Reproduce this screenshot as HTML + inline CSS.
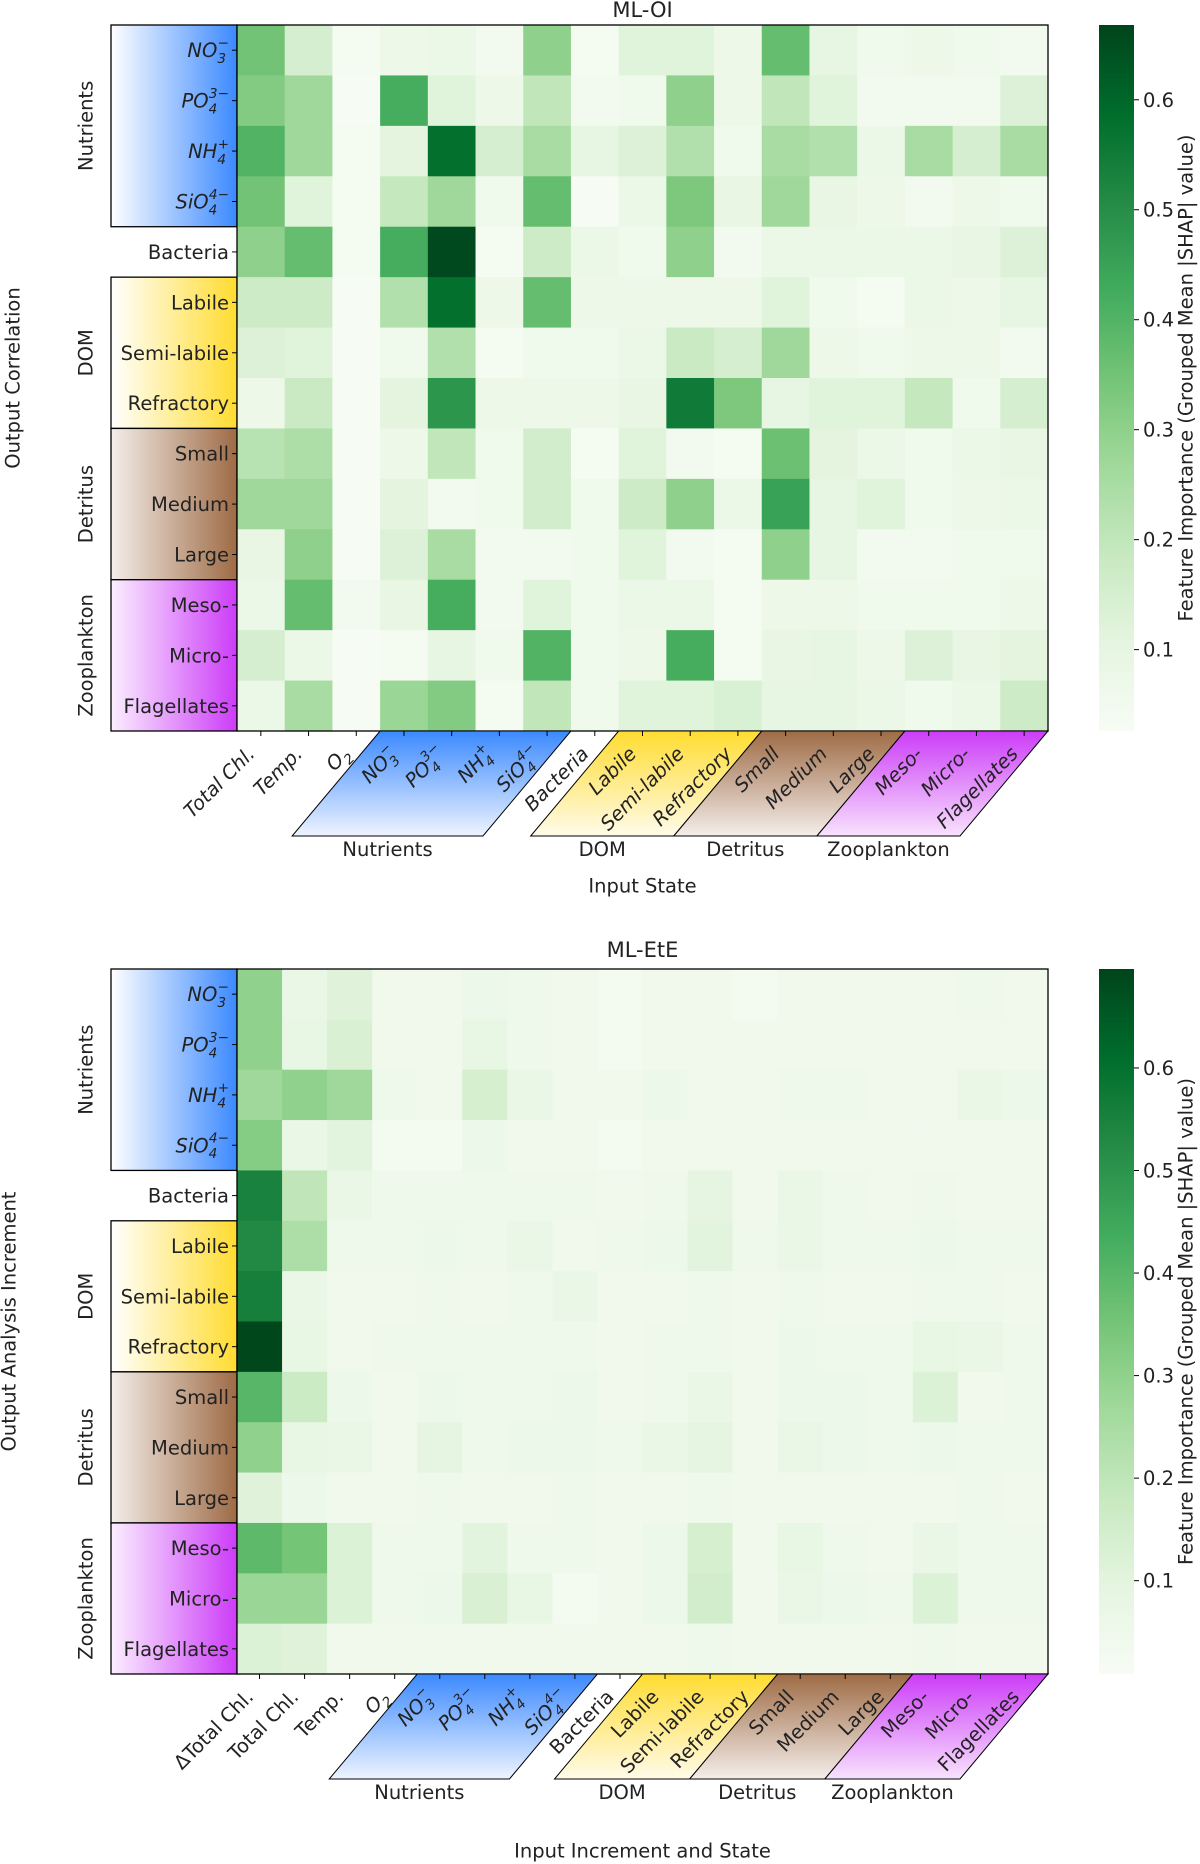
<!DOCTYPE html>
<html><head><meta charset="utf-8">
<style>
html,body{margin:0;padding:0;background:#fff;}
svg{display:block;font-family:"DejaVu Sans","Liberation Sans",sans-serif;}
</style></head>
<body>
<svg id="fig" width="1200" height="1864" viewBox="0 0 1200 1864" xmlns="http://www.w3.org/2000/svg">
<defs>
<linearGradient id="gBlueH" x1="0" x2="1" y1="0" y2="0"><stop offset="0" stop-color="#fff"/><stop offset="1" stop-color="#3b89ff"/></linearGradient>
<linearGradient id="gYelH" x1="0" x2="1" y1="0" y2="0"><stop offset="0" stop-color="#fff"/><stop offset="1" stop-color="#ffdc30"/></linearGradient>
<linearGradient id="gBrnH" x1="0" x2="1" y1="0" y2="0"><stop offset="0" stop-color="#f4eeea"/><stop offset="1" stop-color="#9e6b45"/></linearGradient>
<linearGradient id="gMagH" x1="0" x2="1" y1="0" y2="0"><stop offset="0" stop-color="#fbeeff"/><stop offset="1" stop-color="#cc3cf8"/></linearGradient>
<linearGradient id="gBlueV" x1="0" x2="0" y1="0" y2="1"><stop offset="0" stop-color="#3b89ff"/><stop offset="1" stop-color="#eef4ff"/></linearGradient>
<linearGradient id="gYelV" x1="0" x2="0" y1="0" y2="1"><stop offset="0" stop-color="#ffdc30"/><stop offset="1" stop-color="#fffbea"/></linearGradient>
<linearGradient id="gBrnV" x1="0" x2="0" y1="0" y2="1"><stop offset="0" stop-color="#9e6b45"/><stop offset="1" stop-color="#f4eeea"/></linearGradient>
<linearGradient id="gMagV" x1="0" x2="0" y1="0" y2="1"><stop offset="0" stop-color="#cc3cf8"/><stop offset="1" stop-color="#f8e2fd"/></linearGradient>
<linearGradient id="gCbar" x1="0" x2="0" y1="1" y2="0">
<stop offset="0" stop-color="#f7fcf5"/><stop offset="0.125" stop-color="#e5f5e0"/><stop offset="0.25" stop-color="#c7e9c0"/><stop offset="0.375" stop-color="#a1d99b"/><stop offset="0.5" stop-color="#74c476"/><stop offset="0.625" stop-color="#41ab5d"/><stop offset="0.75" stop-color="#238b45"/><stop offset="0.875" stop-color="#006d2c"/><stop offset="1" stop-color="#00441b"/>
</linearGradient>
</defs>
</svg>
<script>
// ---------- data ----------
const rowLabels = ["NO3","PO4","NH4","SiO4","Bacteria","Labile","Semi-labile","Refractory","Small","Medium","Large","Meso-","Micro-","Flagellates"];
const colsOI = ["Total Chl.","Temp.","O2","NO3","PO4","NH4","SiO4","Bacteria","Labile","Semi-labile","Refractory","Small","Medium","Large","Meso-","Micro-","Flagellates"];
const colsEtE = ["\u0394Total Chl.","Total Chl.","Temp.","O2","NO3","PO4","NH4","SiO4","Bacteria","Labile","Semi-labile","Refractory","Small","Medium","Large","Meso-","Micro-","Flagellates"];
const valuesOI = [
 [0.35,0.15,0.04,0.07,0.08,0.05,0.30,0.04,0.12,0.12,0.07,0.37,0.10,0.06,0.07,0.06,0.05],
 [0.32,0.27,0.03,0.42,0.12,0.07,0.20,0.05,0.06,0.30,0.07,0.20,0.12,0.05,0.05,0.05,0.13],
 [0.40,0.27,0.04,0.11,0.58,0.15,0.25,0.10,0.13,0.23,0.06,0.25,0.23,0.08,0.25,0.15,0.25],
 [0.35,0.12,0.04,0.19,0.27,0.06,0.37,0.03,0.08,0.33,0.09,0.27,0.09,0.07,0.05,0.07,0.06],
 [0.30,0.37,0.04,0.42,0.66,0.04,0.17,0.08,0.06,0.30,0.05,0.08,0.08,0.08,0.08,0.09,0.13],
 [0.17,0.17,0.03,0.23,0.58,0.07,0.37,0.07,0.07,0.07,0.07,0.12,0.06,0.04,0.08,0.07,0.10],
 [0.13,0.12,0.03,0.06,0.23,0.04,0.06,0.06,0.08,0.18,0.15,0.27,0.07,0.06,0.07,0.07,0.05],
 [0.07,0.18,0.03,0.11,0.48,0.07,0.07,0.07,0.09,0.55,0.33,0.10,0.12,0.12,0.19,0.06,0.15],
 [0.22,0.24,0.03,0.07,0.20,0.06,0.16,0.04,0.12,0.05,0.04,0.36,0.11,0.08,0.06,0.08,0.09],
 [0.27,0.27,0.03,0.11,0.05,0.06,0.16,0.06,0.17,0.30,0.08,0.45,0.10,0.12,0.06,0.07,0.08],
 [0.09,0.30,0.03,0.13,0.25,0.05,0.05,0.06,0.12,0.05,0.04,0.30,0.10,0.05,0.05,0.06,0.06],
 [0.08,0.37,0.05,0.09,0.42,0.05,0.12,0.06,0.08,0.08,0.04,0.07,0.07,0.06,0.06,0.06,0.07],
 [0.15,0.08,0.03,0.04,0.10,0.06,0.40,0.06,0.07,0.42,0.04,0.09,0.10,0.07,0.13,0.09,0.11],
 [0.08,0.25,0.03,0.28,0.32,0.04,0.20,0.06,0.12,0.12,0.14,0.10,0.10,0.08,0.06,0.08,0.17]
];
const valuesEtE = [
 [0.30,0.07,0.11,0.04,0.04,0.06,0.05,0.04,0.03,0.04,0.04,0.03,0.04,0.04,0.04,0.04,0.05,0.04],
 [0.30,0.08,0.13,0.04,0.04,0.08,0.05,0.04,0.03,0.04,0.04,0.04,0.04,0.04,0.04,0.04,0.04,0.04],
 [0.27,0.30,0.27,0.05,0.04,0.14,0.07,0.04,0.04,0.06,0.04,0.04,0.05,0.05,0.04,0.04,0.07,0.06],
 [0.32,0.07,0.10,0.03,0.03,0.06,0.04,0.04,0.03,0.04,0.04,0.04,0.04,0.04,0.04,0.04,0.04,0.04],
 [0.55,0.20,0.07,0.05,0.05,0.05,0.05,0.05,0.04,0.05,0.09,0.04,0.07,0.05,0.04,0.05,0.04,0.04],
 [0.53,0.24,0.05,0.05,0.06,0.05,0.07,0.04,0.05,0.06,0.10,0.05,0.07,0.05,0.05,0.06,0.05,0.05],
 [0.56,0.07,0.04,0.04,0.05,0.04,0.05,0.07,0.04,0.04,0.05,0.04,0.05,0.04,0.04,0.05,0.05,0.04],
 [0.69,0.08,0.04,0.05,0.05,0.05,0.05,0.05,0.04,0.05,0.05,0.04,0.06,0.05,0.05,0.08,0.07,0.05],
 [0.40,0.17,0.06,0.04,0.06,0.05,0.05,0.06,0.04,0.05,0.07,0.04,0.06,0.06,0.05,0.12,0.04,0.05],
 [0.30,0.08,0.07,0.04,0.09,0.05,0.06,0.06,0.05,0.07,0.09,0.04,0.07,0.06,0.05,0.06,0.05,0.05],
 [0.11,0.06,0.04,0.04,0.05,0.04,0.04,0.05,0.04,0.04,0.05,0.04,0.04,0.04,0.04,0.04,0.05,0.04],
 [0.39,0.35,0.12,0.05,0.05,0.10,0.05,0.05,0.04,0.06,0.14,0.04,0.08,0.05,0.04,0.07,0.05,0.05],
 [0.28,0.28,0.12,0.05,0.06,0.13,0.08,0.03,0.04,0.06,0.15,0.04,0.07,0.06,0.05,0.12,0.05,0.05],
 [0.12,0.11,0.04,0.04,0.04,0.04,0.04,0.04,0.04,0.04,0.05,0.04,0.04,0.04,0.04,0.05,0.04,0.04]
];
const cbarTicks = [0.1,0.2,0.3,0.4,0.5,0.6];
const cbarTickLabels = ["0.1","0.2","0.3","0.4","0.5","0.6"];

// ---------- helpers ----------
const NS = "http://www.w3.org/2000/svg";
const svg = document.getElementById("fig");
const FS = 19.5;
const GREENS = ["#f7fcf5","#e5f5e0","#c7e9c0","#a1d99b","#74c476","#41ab5d","#238b45","#006d2c","#00441b"];
function hex(h){return [parseInt(h.substr(1,2),16),parseInt(h.substr(3,2),16),parseInt(h.substr(5,2),16)];}
function cmap(t){
  t=Math.max(0,Math.min(1,t));
  const p=t*8, i=Math.min(7,Math.floor(p)), f=p-i;
  const a=hex(GREENS[i]), b=hex(GREENS[i+1]);
  return "rgb("+a.map((v,k)=>Math.round(v+(b[k]-v)*f)).join(",")+")";
}
function mk(tag, attrs, parent){
  const e=document.createElementNS(NS,tag);
  for(const k in attrs) e.setAttribute(k,attrs[k]);
  (parent||svg).appendChild(e);
  return e;
}
const CHEM = {
  "NO3":["NO","3","\u2212"],
  "PO4":["PO","4","3\u2212"],
  "NH4":["NH","4","+"],
  "SiO4":["SiO","4","4\u2212"],
  "O2":["O","2",""]
};
function fillLabel(t, label, size){
  if(CHEM[label]){
    const c=CHEM[label];
    t.setAttribute("font-style","italic");
    const b=mk("tspan",{},t); b.textContent=c[0];
    const s=mk("tspan",{"font-size":size*0.7,"dy":size*0.3},t); s.textContent=c[1];
    if(c[2]){
      const w=size*0.7*0.62;
      const u=mk("tspan",{"font-size":size*0.7,"dx":-w,"dy":-size*0.8},t); u.textContent=c[2];
      const r=mk("tspan",{"font-size":size*0.7,"dy":size*0.5},t); r.textContent="";
    }
  } else t.textContent=label;
}

const ROWGROUPS = [
 {r0:0,r1:4,name:"Nutrients",fill:"url(#gBlueH)"},
 {r0:5,r1:8,name:"DOM",fill:"url(#gYelH)"},
 {r0:8,r1:11,name:"Detritus",fill:"url(#gBrnH)"},
 {r0:11,r1:14,name:"Zooplankton",fill:"url(#gMagH)"}
];

function drawChart(cfg){
  const {top,bottom,left,right,cols,vals,vmin,vmax} = cfg;
  const nR=rowLabels.length, nC=cols.length;
  const cw=(right-left)/nC, rh=(bottom-top)/nR;
  const xs=i=>left+i*cw, ys=j=>top+j*rh;
  const g=mk("g",{});
  
  

  const title=mk("text",{x:(left+right)/2,y:cfg.titleY,"text-anchor":"middle","dominant-baseline":"middle","font-size":21,fill:"#222"},g);
  
  
  title.textContent=cfg.title;

  ROWGROUPS.forEach(rg=>{
    const r=mk("rect",{x:111,y:ys(rg.r0),width:left-111,height:ys(rg.r1)-ys(rg.r0),fill:rg.fill,stroke:"#000","stroke-width":1.3},g);
    
    
    const cy=(ys(rg.r0)+ys(rg.r1))/2;
    const t=mk("text",{x:0,y:0,transform:"translate(87,"+cy+") rotate(-90)","text-anchor":"middle","dominant-baseline":"middle","font-size":FS,fill:"#222"},g);
    
    
    t.textContent=rg.name;
  });

  vals.forEach((row,j)=>row.forEach((v,i)=>{
    const c=mk("rect",{x:xs(i),y:ys(j),width:cw+0.6,height:rh+0.6,fill:cmap((v-vmin)/(vmax-vmin))},g);
    
    
  }));
  const fr=mk("rect",{x:left,y:top,width:right-left,height:bottom-top,fill:"none",stroke:"#000","stroke-width":1.3},g);
  
  

  rowLabels.forEach((lab,j)=>{
    const cy=ys(j)+rh/2;
    mk("line",{x1:left-5,x2:left,y1:cy,y2:cy,stroke:"#000","stroke-width":1},g);
    const t=mk("text",{x:left-8,y:cy+7,"text-anchor":"end","font-size":FS,fill:"#222"},g);
    
    
    fillLabel(t,lab,FS);
  });

  const H=105, SH=88;
  cfg.colGroups.forEach(cg=>{
    const x0=xs(cg.c0), x1=xs(cg.c1);
    const p=mk("polygon",{points:[x0+","+bottom,x1+","+bottom,(x1-SH)+","+(bottom+H),(x0-SH)+","+(bottom+H)].join(" "),fill:cg.fill,stroke:"#000","stroke-width":1},g);
    
    
    const t=mk("text",{x:(x0+x1)/2-SH,y:bottom+H+20,"text-anchor":"middle","font-size":FS,fill:"#222"},g);
    
    
    t.textContent=cg.name;
  });

  cols.forEach((lab,i)=>{
    const cx=xs(i)+cw/2;
    mk("line",{x1:cx,x2:cx,y1:bottom,y2:bottom+5,stroke:"#000","stroke-width":1},g);
    const t=mk("text",{x:0,y:0,transform:"translate("+(cx-5)+","+(bottom+24)+") rotate(-45)","text-anchor":"end","font-size":FS,fill:"#222"},g);
    if(cfg.italicX) t.setAttribute("font-style","italic");
    
    
    fillLabel(t,lab,FS);
  });

  const xl=mk("text",{x:(left+right)/2,y:cfg.xlabelY,"text-anchor":"middle","dominant-baseline":"middle","font-size":FS,fill:"#222"},g);
  
  
  xl.textContent=cfg.xlabel;
  const yl=mk("text",{x:0,y:0,transform:"translate("+cfg.ylabelX+","+((top+bottom)/2)+") rotate(-90)","text-anchor":"middle","dominant-baseline":"middle","font-size":FS,fill:"#222"},g);
  
  
  yl.textContent=cfg.ylabel;

  const cbx=1099, cbw=35;
  const cb=mk("rect",{x:cbx,y:top,width:cbw,height:bottom-top,fill:"url(#gCbar)"},g);
  
  
  const cy=v=>bottom-(v-vmin)/(vmax-vmin)*(bottom-top);
  cbarTicks.forEach((v,k)=>{
    mk("line",{x1:cbx+cbw,x2:cbx+cbw+5,y1:cy(v),y2:cy(v),stroke:"#000","stroke-width":1},g);
    const t=mk("text",{x:cbx+cbw+9,y:cy(v)+7,"font-size":FS,fill:"#222"},g);
    
    
    t.textContent=cbarTickLabels[k];
  });
  const cl=mk("text",{x:0,y:0,transform:"translate(1187,"+((top+bottom)/2)+") rotate(-90)","text-anchor":"middle","dominant-baseline":"middle","font-size":FS,fill:"#222"},g);
  
  
  cl.textContent="Feature Importance (Grouped Mean |SHAP| value)";
}

drawChart({id:"ml-oi",title:"ML-OI",titleY:11,top:25,bottom:731,left:237,right:1048,cols:colsOI,vals:valuesOI,vmin:0.026,vmax:0.668,italicX:true,
  xlabel:"Input State",xlabelY:887,ylabel:"Output Correlation",ylabelX:14,
  colGroups:[{c0:3,c1:7,name:"Nutrients",fill:"url(#gBlueV)"},{c0:8,c1:11,name:"DOM",fill:"url(#gYelV)"},{c0:11,c1:14,name:"Detritus",fill:"url(#gBrnV)"},{c0:14,c1:17,name:"Zooplankton",fill:"url(#gMagV)"}]});
drawChart({id:"ml-ete",title:"ML-EtE",titleY:951,top:969,bottom:1674,left:237,right:1048,cols:colsEtE,vals:valuesEtE,vmin:0.009,vmax:0.6965,italicX:false,
  xlabel:"Input Increment and State",xlabelY:1852,ylabel:"Output Analysis Increment",ylabelX:10,
  colGroups:[{c0:4,c1:8,name:"Nutrients",fill:"url(#gBlueV)"},{c0:9,c1:12,name:"DOM",fill:"url(#gYelV)"},{c0:12,c1:15,name:"Detritus",fill:"url(#gBrnV)"},{c0:15,c1:18,name:"Zooplankton",fill:"url(#gMagV)"}]});
</script>
</body></html>
